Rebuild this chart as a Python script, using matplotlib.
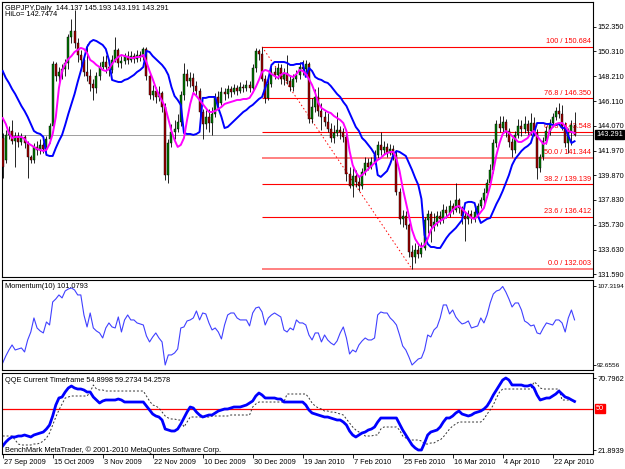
import numpy as np
import matplotlib
matplotlib.use("Agg")
import matplotlib.pyplot as plt

plt.rcParams['font.family'] = ['Liberation Sans', 'DejaVu Sans']
FS = 5.3

# ---------------- data ----------------
OPEN = [
    143.0, 141.2, 143.3, 143.6, 142.8, 143.2, 142.7, 143.1, 142.6, 141.4,
    141.2, 142.3, 142.0, 142.4, 142.1, 142.9, 144.0, 149.2, 148.2, 148.6,
    148.8, 149.3, 151.5, 152.0, 151.0, 150.0, 149.6, 148.6, 148.2, 147.6,
    147.2, 148.2, 149.0, 149.4, 149.0, 148.7, 149.6, 150.4, 149.3, 149.5,
    149.9, 149.6, 149.9, 149.7, 150.0, 149.8, 150.5, 148.2, 146.6, 147.0,
    146.5, 146.8, 145.6, 139.9, 142.6, 143.5, 143.8, 144.4, 146.6, 148.4,
    147.8, 148.1, 147.4, 147.0, 145.2, 144.2, 144.8, 144.3, 145.0, 146.5,
    146.0, 146.9, 146.7, 147.1, 146.9, 147.2, 147.0, 147.3, 147.2, 147.5,
    147.2, 148.9, 150.3, 150.1, 148.0, 146.4, 147.6, 148.6, 148.3, 148.9,
    148.0, 148.5, 147.8, 147.3, 148.0, 148.3, 149.0, 148.8, 149.2, 144.6,
    145.6, 146.5, 145.3, 144.8, 144.4, 143.8, 143.0, 143.4, 143.7, 143.5,
    143.1, 140.0, 139.0, 139.8, 139.3, 139.0, 140.2, 140.9, 140.6, 141.0,
    141.6, 142.4, 142.0, 142.3, 141.8, 142.1, 141.6, 138.5, 136.2, 136.5,
    135.7, 133.4, 133.0, 133.6, 133.3, 133.8, 136.1, 136.6, 135.6, 136.0,
    136.5, 136.2, 137.0, 136.7, 137.3, 137.0, 137.8, 137.1, 136.5, 136.2,
    136.6, 136.3, 136.8, 137.3, 137.8, 138.4, 139.2, 140.3, 142.6, 144.2,
    143.9, 144.4, 143.6, 142.7, 142.0, 143.3, 144.0, 143.8, 144.2, 143.6,
    144.3, 143.4, 140.5, 141.4, 142.8, 143.6, 144.3, 144.8, 145.3, 145.0,
    144.0, 142.6, 143.5, 144.137]
HIGH = [
    143.4, 143.7, 144.0, 144.5, 143.5, 143.5, 143.4, 143.3, 142.8, 141.6,
    142.6, 142.8, 142.9, 142.7, 143.2, 144.3, 149.5, 149.4, 149.0, 149.2,
    149.7, 151.8, 153.0, 153.8, 151.4, 150.4, 150.0, 150.9, 148.8, 148.0,
    148.6, 149.4, 149.9, 150.0, 149.6, 150.0, 151.5, 150.6, 149.9, 150.2,
    150.3, 150.3, 150.2, 150.4, 150.3, 150.7, 150.7, 148.5, 147.5, 147.3,
    147.4, 147.0, 146.0, 142.9, 144.2, 144.5, 145.0, 147.0, 149.3, 148.8,
    148.6, 148.5, 147.8, 147.2, 145.5, 145.4, 145.5, 145.6, 146.8, 147.0,
    147.3, 147.2, 147.5, 147.4, 147.6, 147.5, 147.7, 147.6, 147.9, 147.8,
    149.2, 150.6, 150.5, 150.684, 148.3, 148.0, 149.0, 149.0, 149.3, 149.2,
    148.9, 150.0, 148.3, 148.4, 148.7, 149.4, 149.6, 149.6, 149.4, 146.4,
    147.1, 147.3, 146.0, 145.3, 145.1, 144.3, 144.1, 145.2, 144.0, 143.9,
    143.4, 140.6, 140.5, 140.3, 139.8, 140.5, 141.4, 141.3, 141.4, 142.0,
    142.8, 143.5, 142.8, 142.6, 142.5, 142.4, 141.9, 138.8, 137.0, 136.9,
    135.9, 134.0, 134.2, 134.0, 134.3, 136.4, 137.0, 136.9, 136.7, 136.9,
    136.9, 137.5, 137.3, 137.8, 137.6, 139.2, 138.0, 137.3, 136.8, 137.0,
    137.0, 137.1, 137.6, 138.1, 138.8, 139.6, 140.8, 142.9, 144.5, 144.9,
    144.9, 144.6, 143.9, 143.0, 143.6, 144.6, 144.5, 144.9, 144.5, 145.1,
    144.8, 143.8, 141.7, 143.1, 144.0, 144.6, 145.1, 145.6, 145.97, 145.8,
    144.4, 143.9, 144.5, 145.193]
LOW = [
    139.7, 140.9, 142.9, 142.5, 140.6, 142.3, 142.4, 142.2, 139.7, 140.9,
    140.9, 141.6, 141.7, 141.8, 141.9, 142.6, 143.8, 147.8, 147.6, 148.0,
    148.2, 148.8, 151.0, 150.6, 149.4, 149.0, 148.2, 147.8, 147.0, 146.2,
    146.8, 147.9, 148.8, 148.5, 148.2, 148.5, 149.4, 149.0, 148.9, 149.2,
    149.2, 149.4, 149.3, 149.4, 149.5, 149.6, 147.9, 146.3, 146.2, 146.0,
    146.1, 145.2, 139.5, 139.2, 142.3, 142.9, 143.5, 144.0, 146.2, 147.4,
    147.3, 146.9, 146.6, 144.8, 142.9, 143.8, 143.5, 143.3, 144.8, 145.5,
    145.8, 146.2, 146.4, 146.5, 146.7, 146.6, 146.8, 146.9, 147.0, 146.9,
    147.0, 148.6, 149.6, 147.8, 146.0, 146.2, 147.3, 148.0, 148.0, 147.6,
    147.5, 147.6, 147.0, 147.0, 147.7, 148.0, 148.3, 148.6, 144.3, 144.3,
    145.2, 144.9, 143.7, 144.0, 143.5, 142.7, 142.6, 143.2, 142.9, 142.7,
    139.4, 138.8, 138.07, 138.9, 138.6, 138.7, 139.9, 140.3, 140.4, 140.8,
    141.3, 141.6, 141.7, 141.4, 141.6, 141.2, 138.2, 135.8, 135.5, 135.4,
    133.0, 132.003, 132.5, 132.9, 133.0, 133.6, 135.0, 134.3, 135.2, 135.6,
    135.8, 135.9, 136.3, 136.4, 136.6, 136.8, 136.7, 135.8, 134.4, 135.8,
    135.9, 136.0, 136.5, 137.1, 137.5, 138.1, 139.0, 140.1, 142.3, 143.5,
    143.4, 143.1, 142.3, 141.4, 141.8, 143.0, 143.2, 143.4, 143.2, 143.3,
    143.2, 139.6, 140.2, 141.2, 142.5, 143.3, 144.0, 144.5, 144.7, 143.7,
    142.3, 141.8, 142.4, 143.191]
CLOSE = [
    140.6, 143.3, 143.6, 142.8, 143.2, 142.7, 143.1, 142.6, 141.4, 141.2,
    142.3, 142.0, 142.4, 142.1, 142.9, 144.0, 149.2, 148.2, 148.6, 148.8,
    149.3, 151.5, 152.0, 151.0, 150.0, 149.6, 148.6, 148.2, 147.6, 147.2,
    148.2, 149.0, 149.4, 149.0, 148.7, 149.6, 150.4, 149.3, 149.5, 149.9,
    149.6, 149.9, 149.7, 150.0, 149.8, 150.5, 148.2, 146.6, 147.0, 146.5,
    146.8, 145.6, 139.9, 142.6, 143.5, 143.8, 144.4, 146.6, 148.4, 147.8,
    148.1, 147.4, 147.0, 145.2, 144.2, 144.8, 144.3, 145.0, 146.5, 146.0,
    146.9, 146.7, 147.1, 146.9, 147.2, 147.0, 147.3, 147.2, 147.5, 147.2,
    148.9, 150.3, 150.1, 148.0, 146.4, 147.6, 148.6, 148.3, 148.9, 148.0,
    148.5, 147.8, 147.3, 148.0, 148.3, 149.0, 148.8, 149.2, 144.6, 145.6,
    146.5, 145.3, 144.8, 144.4, 143.8, 143.0, 143.4, 143.7, 143.5, 143.1,
    140.0, 139.0, 139.8, 139.3, 139.0, 140.2, 140.9, 140.6, 141.0, 141.6,
    142.4, 142.0, 142.3, 141.8, 142.1, 141.6, 138.5, 136.2, 136.5, 135.7,
    133.4, 133.0, 133.6, 133.3, 133.8, 136.1, 136.6, 135.6, 136.0, 136.5,
    136.2, 137.0, 136.7, 137.3, 137.0, 137.8, 137.1, 136.5, 136.2, 136.6,
    136.3, 136.8, 137.3, 137.8, 138.4, 139.2, 140.3, 142.6, 144.2, 143.9,
    144.4, 143.6, 142.7, 142.0, 143.3, 144.0, 143.8, 144.2, 143.6, 144.3,
    143.4, 140.5, 141.4, 142.8, 143.6, 144.3, 144.8, 145.3, 145.0, 144.0,
    142.6, 143.5, 144.137, 143.291]

MA_FAST = [
    144.70, 144.20, 143.44, 143.02, 143.11, 143.11, 143.11, 142.94, 142.60, 142.44,
    142.27, 142.10, 142.02, 141.93, 142.02, 142.52, 143.36, 144.79, 147.23, 148.65,
    149.24, 149.66, 149.91, 150.25, 150.42, 150.59, 150.50, 150.17, 149.58, 149.41,
    149.16, 148.99, 148.74, 148.65, 148.82, 149.24, 149.58, 149.83, 150.00, 149.91,
    149.83, 149.75, 149.75, 149.83, 149.83, 150.00, 149.41, 148.65, 147.98, 147.23,
    146.64, 146.13, 145.63, 144.62, 143.61, 142.86, 142.27, 142.44, 143.02, 144.54,
    145.88, 146.81, 146.55, 146.22, 145.88, 145.54, 145.21, 145.21, 145.29, 145.46,
    145.63, 145.88, 145.97, 146.05, 146.13, 146.22, 146.22, 146.30, 146.30, 146.39,
    146.81, 147.31, 147.90, 148.57, 148.74, 148.65, 148.40, 148.23, 148.07, 148.32,
    148.49, 148.40, 148.23, 148.15, 148.40, 148.74, 148.65, 148.40, 147.98, 147.48,
    146.81, 145.97, 145.54, 145.38, 145.21, 145.12, 144.87, 144.70, 144.54, 144.28,
    143.61, 141.93, 140.75, 140.17, 139.75, 139.91, 140.17, 140.42, 140.67, 140.92,
    141.18, 141.34, 141.60, 141.76, 141.85, 141.85, 141.26, 140.25, 138.82, 137.65,
    136.47, 135.29, 134.54, 134.12, 133.86, 134.03, 134.54, 135.29, 135.63, 135.88,
    136.05, 136.22, 136.38, 136.64, 136.97, 137.23, 137.31, 137.06, 136.81, 136.55,
    136.30, 136.22, 136.47, 136.81, 137.14, 138.07, 138.99, 140.25, 141.60, 142.60,
    143.36, 143.61, 143.44, 143.19, 142.94, 142.69, 142.69, 142.86, 143.02, 143.44,
    143.61, 143.19, 142.86, 142.52, 142.60, 143.61, 143.95, 144.20, 144.28, 144.28,
    144.03, 143.61, 143.53, 143.44]
HILO = [
    148.65, 148.07, 147.65, 147.14, 146.72, 146.22, 145.71, 145.29, 144.79, 144.20,
    143.61, 143.44, 143.36, 143.11, 141.60, 141.51, 141.51, 142.18, 142.77, 143.28,
    144.12, 145.04, 145.88, 146.72, 147.73, 148.65, 149.66, 150.67, 151.09, 151.26,
    151.17, 151.01, 150.84, 150.50, 149.58, 147.90, 147.81, 147.73, 147.73, 147.90,
    147.98, 148.15, 148.32, 148.57, 148.74, 148.99, 150.34, 150.25, 149.91, 149.66,
    149.41, 149.16, 148.82, 148.32, 147.31, 146.55, 146.22, 145.80, 143.44, 143.36,
    143.36, 143.28, 143.36, 143.53, 146.39, 146.39, 146.47, 146.47, 146.47, 145.54,
    144.79, 143.86, 143.95, 144.20, 144.45, 144.70, 144.96, 145.21, 145.38, 145.63,
    145.80, 146.05, 146.30, 146.47, 147.23, 147.98, 149.16, 149.41, 149.41, 149.41,
    149.41, 149.33, 149.16, 149.16, 149.24, 149.24, 149.33, 148.15, 148.91, 148.65,
    148.15, 147.98, 147.90, 147.73, 147.65, 147.39, 147.06, 146.72, 146.47, 146.05,
    145.71, 145.12, 144.54, 143.95, 143.61, 143.02, 142.77, 142.44, 142.10, 141.68,
    139.91, 139.75, 140.00, 140.25, 140.84, 141.60, 141.93, 141.85, 141.68, 141.51,
    140.92, 140.33, 139.66, 139.07, 137.90, 134.87, 134.12, 133.86, 133.86, 133.78,
    133.78, 134.20, 134.62, 134.96, 135.21, 135.46, 135.80, 136.13, 137.56, 137.65,
    137.65, 137.56, 136.55, 135.88, 136.05, 136.22, 136.30, 136.89, 137.48, 137.98,
    138.57, 139.24, 139.91, 140.75, 141.26, 141.60, 141.93, 142.18, 142.35, 142.60,
    143.44, 144.28, 144.28, 144.28, 144.20, 144.20, 144.12, 144.12, 144.20, 143.86,
    143.86, 143.19, 142.60, 142.7474]

MOMENTUM = [
    93.03, 94.34, 95.46, 96.40, 95.46, 95.65, 95.84, 95.09, 97.33, 98.82,
    101.44, 99.57, 99.01, 98.64, 100.69, 100.13, 104.43, 104.99, 105.74, 105.18,
    106.48, 106.86, 107.04, 106.67, 105.74, 105.74, 102.00, 99.76, 102.37, 99.57,
    99.01, 98.64, 97.70, 99.57, 100.51, 99.76, 99.57, 101.63, 98.82, 101.07,
    102.00, 101.07, 101.07, 100.51, 100.32, 100.13, 98.08, 96.96, 97.89, 98.64,
    97.70, 96.96, 92.6556, 94.53, 94.53, 94.90, 95.65, 99.57, 99.76, 100.88,
    101.07, 101.44, 102.75, 101.07, 102.37, 102.19, 100.51, 99.20, 99.57, 98.82,
    97.52, 100.13, 102.00, 102.37, 102.37, 101.44, 101.07, 101.07, 101.07, 99.95,
    102.37, 103.31, 103.49, 102.56, 100.13, 101.44, 102.00, 102.37, 102.00, 101.63,
    99.20, 98.82, 99.57, 99.20, 101.07, 100.51, 100.51, 100.13, 98.26, 97.33,
    98.64, 98.64, 96.96, 98.26, 97.33, 96.77, 96.40, 97.14, 98.64, 99.76,
    97.70, 94.71, 95.46, 95.09, 96.40, 97.14, 97.70, 97.33, 97.33, 97.70,
    102.00, 102.56, 102.37, 102.37, 101.44, 100.88, 100.13, 98.26, 96.21, 95.46,
    94.15, 92.6556, 93.22, 93.78, 93.97, 95.46, 98.26, 97.89, 99.20, 99.76,
    101.44, 103.87, 103.87, 102.19, 102.93, 101.63, 100.88, 100.32, 100.51, 100.88,
    99.57, 99.76, 99.95, 101.44, 100.51, 102.00, 104.24, 105.92, 106.48, 106.67,
    107.3194, 106.30, 104.99, 103.49, 104.24, 104.24, 102.93, 100.88, 100.51, 99.95,
    100.13, 98.64, 98.45, 99.57, 100.51, 100.32, 100.13, 101.07, 101.07, 100.51,
    98.82, 101.44, 102.93, 101.0793]

QQE = [
    24.63, 27.34, 29.38, 30.74, 30.74, 31.42, 31.42, 32.10, 31.42, 30.74,
    32.10, 32.78, 33.46, 34.13, 36.17, 38.89, 45.00, 52.47, 57.22, 57.90,
    61.29, 64.01, 65.37, 64.01, 63.33, 63.33, 62.65, 61.29, 61.29, 57.90,
    55.86, 53.83, 55.18, 55.86, 55.86, 55.86, 55.86, 56.54, 55.86, 54.50,
    54.50, 54.50, 54.50, 54.50, 54.50, 54.50, 51.79, 49.07, 46.36, 45.00,
    44.32, 42.28, 36.17, 35.49, 34.81, 34.81, 36.17, 39.57, 43.64, 47.71,
    51.11, 50.43, 47.71, 45.68, 44.32, 45.00, 45.68, 45.68, 47.04, 48.39,
    49.07, 49.75, 49.75, 50.43, 51.11, 51.11, 51.11, 51.79, 52.47, 53.83,
    55.18, 58.58, 60.62, 59.26, 57.22, 57.22, 57.22, 57.22, 56.54, 56.54,
    54.50, 54.50, 54.50, 54.50, 54.50, 54.50, 54.50, 52.47, 49.07, 47.04,
    46.36, 45.68, 45.00, 44.32, 44.32, 43.64, 42.96, 42.28, 42.28, 40.92,
    38.89, 34.81, 32.10, 30.74, 32.10, 33.46, 34.13, 35.49, 36.17, 37.53,
    40.92, 43.64, 43.64, 43.64, 43.64, 43.64, 43.64, 39.57, 35.49, 32.10,
    28.70, 25.31, 23.27, 21.8939, 21.91, 26.67, 32.10, 34.13, 34.81, 35.49,
    37.53, 40.92, 43.64, 43.64, 45.00, 47.04, 48.39, 46.36, 45.68, 45.00,
    45.68, 47.04, 47.71, 48.39, 49.75, 51.79, 55.18, 59.26, 62.65, 66.05,
    69.44, 70.7962, 69.44, 66.05, 66.05, 66.05, 66.05, 65.37, 65.37, 66.05,
    64.01, 59.26, 55.86, 56.54, 57.22, 57.22, 58.58, 59.94, 61.97, 59.94,
    57.90, 57.22, 56.00, 54.8998]
QQE_TRAIL = [
    31.42, 31.42, 31.42, 31.42, 28.70, 25.99, 25.31, 25.31, 25.31, 25.31,
    25.99, 25.99, 26.67, 28.02, 30.06, 33.46, 38.89, 44.32, 49.07, 53.15,
    57.22, 57.90, 58.58, 58.58, 58.58, 58.58, 58.58, 58.58, 61.29, 66.05,
    63.33, 62.65, 62.65, 61.97, 61.97, 61.97, 61.97, 61.97, 61.97, 61.97,
    61.97, 61.97, 61.97, 61.97, 61.97, 61.97, 58.58, 55.18, 52.47, 51.79,
    50.43, 47.71, 45.00, 43.64, 42.96, 42.96, 42.28, 42.28, 37.53, 40.92,
    44.32, 44.32, 44.32, 44.32, 44.32, 44.32, 44.32, 45.00, 45.00, 45.00,
    45.00, 45.00, 45.00, 45.68, 45.68, 45.68, 45.68, 45.68, 45.68, 45.68,
    51.11, 53.15, 54.50, 54.50, 54.50, 54.50, 54.50, 54.50, 54.50, 54.50,
    54.50, 59.94, 59.94, 59.94, 59.94, 59.94, 59.94, 59.94, 57.22, 53.83,
    51.79, 50.43, 49.75, 48.39, 48.39, 47.71, 47.71, 47.04, 46.36, 45.68,
    42.96, 40.24, 37.53, 35.49, 34.13, 33.46, 31.42, 31.42, 31.42, 32.10,
    32.10, 36.17, 37.53, 37.53, 37.53, 37.53, 37.53, 35.49, 31.42, 30.06,
    28.70, 28.70, 28.70, 28.70, 28.02, 25.99, 25.99, 26.67, 26.67, 28.02,
    28.70, 30.74, 33.46, 36.17, 38.21, 39.57, 40.92, 40.92, 40.92, 40.92,
    40.92, 40.92, 40.92, 40.92, 42.96, 46.36, 49.07, 52.47, 57.22, 61.29,
    63.33, 63.33, 63.33, 63.33, 63.33, 63.33, 63.33, 63.33, 63.33, 63.33,
    68.08, 66.72, 64.01, 63.33, 63.33, 63.33, 63.33, 63.33, 63.33, 55.86,
    55.86, 55.86, 55.86, 54.2578]

FIB_NAMES = ["100", "76.8", "61.8", "50.0", "38.2", "23.6", "0.0"]
FIB_PRICES = [150.684, 146.350, 143.548, 141.344, 139.139, 136.412, 132.003]
FIB_HIGH_BAR = 83
FIB_LOW_BAR = 131

PRICE_TICKS = [152.350, 150.310, 148.210, 146.110, 144.070, 141.970,
               139.870, 137.830, 135.730, 133.630, 131.590]
MOM_TICKS = [92.6556, 107.3194]
QQE_TICKS = [21.8939, 70.7962]
QQE_LEVEL = 50

DATE_LABELS = ["27 Sep 2009", "15 Oct 2009", "3 Nov 2009", "22 Nov 2009",
               "10 Dec 2009", "30 Dec 2009", "19 Jan 2010", "7 Feb 2010",
               "25 Feb 2010", "16 Mar 2010", "4 Apr 2010", "22 Apr 2010"]
DATE_BARS = [0, 16, 32, 48, 64, 80, 96, 112, 128, 144, 160, 176]

HEADER = "GBPJPY,Daily  144.137 145.193 143.191 143.291"
HILO_TEXT = "HiLo= 142.7474"
MOM_TEXT = "Momentum(10) 101.0793"
QQE_TEXT = "QQE Current Timeframe 54.8998 59.2734 54.2578"
COPY_TEXT = "BenchMark MetaTrader, \u00a9 2001-2010 MetaQuotes Software Corp."

# ---------------- figure ----------------
W, H = 625, 469
fig = plt.figure(figsize=(W / 100, H / 100), dpi=100)
fig.patch.set_facecolor('white')


def add_panel(top, bottom, left=2, right=593):
    return fig.add_axes([left / W, 1 - bottom / H, (right - left) / W, (bottom - top) / H])


ax = add_panel(2, 277)
axm = add_panel(280, 370)
axq = add_panel(373, 454)

n = len(CLOSE)
idx = np.arange(n)
XMIN, XMAX = -0.22, 188.9
for a in (ax, axm, axq):
    a.set_xlim(XMIN, XMAX)
    a.set_facecolor('white')
    for s in a.spines.values():
        s.set_color('#000000')
        s.set_linewidth(0.8)
    a.tick_params(axis='x', bottom=False, labelbottom=False)
    a.yaxis.tick_right()
    a.tick_params(axis='y', direction='out', length=2.2, width=0.6, pad=1.2,
                  labelsize=FS, colors='black')

# ---- main price panel ----
ax.set_ylim(131.34, 154.45)
o = np.array(OPEN)
h = np.array(HIGH)
l = np.array(LOW)
c = np.array(CLOSE)
up = c >= o

ax.axhline(CLOSE[-1], color='#a0a0a0', lw=0.7, zorder=1)
for name, price in zip(FIB_NAMES, FIB_PRICES):
    light = name in ("50.0", "0.0")
    ax.hlines(price, FIB_HIGH_BAR, XMAX, color='#ff8080' if light else '#ff0000',
              lw=1.4 if light else 0.8, zorder=1)
    ax.annotate(f"{name} / {price:.3f}", xy=(0.997, price),
                xycoords=('axes fraction', 'data'), xytext=(0, 1.2),
                textcoords='offset points', ha='right', va='bottom',
                color='#ff0000', fontsize=FS, zorder=1)
ax.plot([FIB_HIGH_BAR, FIB_LOW_BAR], [FIB_PRICES[0], FIB_PRICES[-1]],
        color='#ff0000', lw=0.7, ls=(0, (1.5, 2.5)), zorder=1)

ax.vlines(idx, l, h, color='#000000', lw=0.6, zorder=2)
ax.bar(idx, np.maximum(np.abs(c - o), 0.04), bottom=np.minimum(o, c), width=0.62,
       color=np.where(up, '#007800', '#a00000'), edgecolor='#000000',
       linewidth=0.3, zorder=3)

ax.plot(idx, HILO, color='#0000ff', lw=1.4, zorder=4)
ax.plot(idx, MA_FAST, color='#ff00ff', lw=1.4, zorder=5)

ax.set_yticks(PRICE_TICKS)
ax.set_yticklabels([f"{v:.3f}" for v in PRICE_TICKS])
ax.annotate(f"{CLOSE[-1]:.3f}", xy=(1, CLOSE[-1]), xycoords=('axes fraction', 'data'),
            xytext=(2.2, 0), textcoords='offset points', ha='left', va='center',
            color='white', fontsize=FS, annotation_clip=False,
            bbox=dict(boxstyle='square,pad=0.15', fc='black', ec='black'))

# ---- momentum panel ----
axm.set_ylim(91.72, 108.53)
axm.plot(idx, MOMENTUM, color='#4040ff', lw=0.8)
axm.set_yticks(MOM_TICKS)
axm.set_yticklabels([f"{v:.4f}" for v in MOM_TICKS], fontsize=4.6)
axm.tick_params(axis='y', pad=0.8)

# ---- QQE panel ----
axq.set_ylim(19.2, 74.2)
axq.axhline(QQE_LEVEL, color='#ff0000', lw=0.9)
axq.plot(idx, QQE_TRAIL, color='#333333', lw=0.7, ls=(0, (2, 2)))
axq.plot(idx, QQE, color='#0000ff', lw=2.0)
axq.set_yticks(QQE_TICKS)
axq.set_yticklabels([f"{v:.4f}" for v in QQE_TICKS])
axq.annotate(str(QQE_LEVEL), xy=(1, QQE_LEVEL), xycoords=('axes fraction', 'data'),
             xytext=(2.2, 0), textcoords='offset points', ha='left', va='center',
             color='white', fontsize=FS, annotation_clip=False,
             bbox=dict(boxstyle='square,pad=0.15', fc='#ff0000', ec='#ff0000'))

axq.set_xticks(DATE_BARS)
axq.tick_params(axis='x', bottom=True, direction='out', length=3, width=0.6,
                labelbottom=False)
for b, lab in zip(DATE_BARS, DATE_LABELS):
    axq.annotate(lab, xy=(b, 0), xycoords=('data', 'axes fraction'),
                 xytext=(0.8, -6.4), textcoords='offset points', ha='left',
                 va='center', fontsize=FS, annotation_clip=False)

# ---- texts ----
def ftext(x, y, s, **kw):
    fig.text(x / W, 1 - y / H, s, ha='left', va='center', fontsize=FS, **kw)


ftext(5, 8, HEADER)
ftext(5, 15, HILO_TEXT)
ftext(5, 287, MOM_TEXT)
ftext(5, 380, QQE_TEXT)
ftext(5, 450, COPY_TEXT)

fig.savefig('out.png', dpi=100, facecolor='white')
